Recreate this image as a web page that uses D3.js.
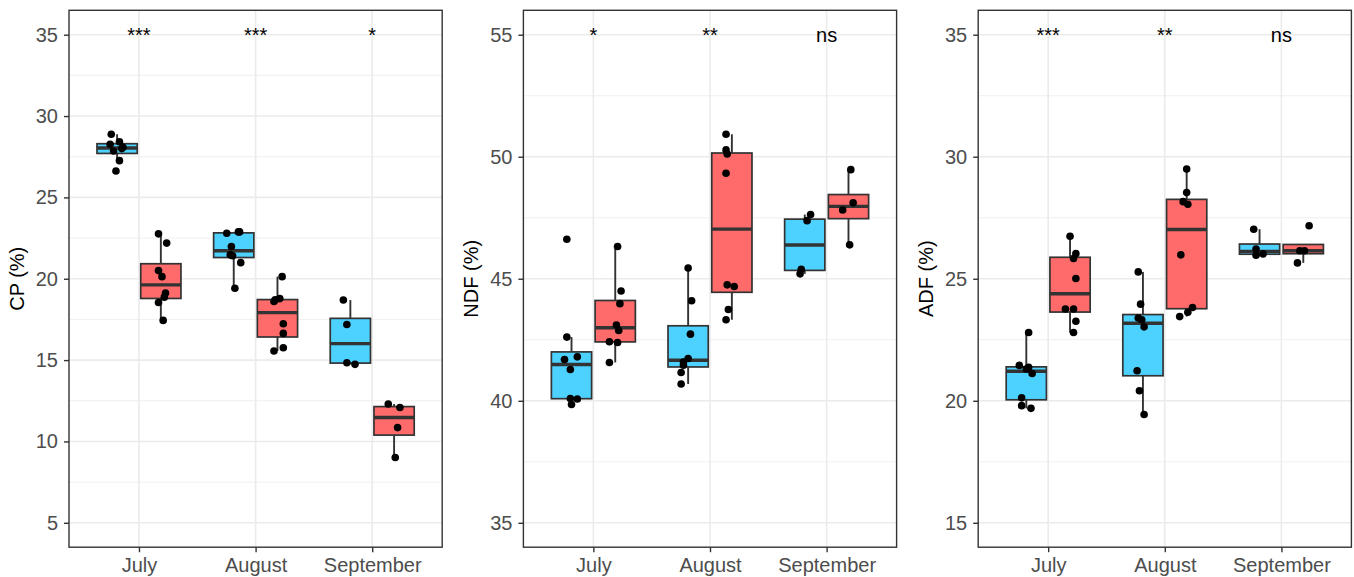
<!DOCTYPE html>
<html>
<head>
<meta charset="utf-8">
<script src="https://cdn.jsdelivr.net/npm/d3@7"></script>
<style>
body { margin: 0; background: #fff; }
svg { display: block; font-family: 'Liberation Sans', Arial, Helvetica, sans-serif; }
</style>
</head>
<body>
<svg id="chart" width="1354" height="577"></svg>
<script>
var months = ['July', 'August', 'September']
var groupColors = ['#4DD2FF', '#FF6B6B']

// [value, jitter] per point, one list per month
var cpBlue = [
    [[28.88, -0.05], [28.26, -0.06], [28.42, 0.02], [27.85, -0.03], [28.08, 0.05], [28.0, 0.04], [27.26, 0.02], [26.62, -0.01]],
    [[22.80, -0.06], [22.88, 0.04], [22.88, 0.05], [21.98, -0.02], [21.47, -0.03], [21.41, -0.01], [20.99, 0.06], [19.42, 0.01]],
    [[18.69, -0.06], [17.19, -0.03], [14.84, -0.03], [14.74, 0.04]]
]
var cpRed = [
    [[22.76, -0.02], [22.19, 0.05], [20.50, -0.02], [20.13, 0.01], [19.12, 0.04], [18.87, 0.03], [18.54, -0.02], [17.44, 0.02]],
    [[20.13, 0.04], [18.78, 0.02], [18.70, -0.02], [18.60, -0.03], [17.23, 0.05], [16.64, 0.05], [15.76, 0.05], [15.56, -0.03]],
    [[12.30, -0.05], [12.09, 0.05], [10.85, 0.03], [9.01, 0.01]]
]
var ndfBlue = [
    [[46.62, -0.04], [42.61, -0.04], [41.80, 0.05], [41.69, -0.06], [41.28, -0.01], [40.09, -0.01], [40.07, 0.05], [39.85, 0.0]],
    [[45.44, 0.0], [44.10, 0.03], [42.73, 0.02], [41.73, 0.0], [41.59, -0.04], [41.46, -0.04], [41.16, -0.06], [40.69, -0.06]],
    [[47.63, 0.05], [47.38, 0.02], [45.39, -0.03], [45.20, -0.04]]
]
var ndfRed = [
    [[46.32, 0.02], [44.50, 0.05], [43.98, 0.04], [43.10, 0.01], [42.88, 0.03], [42.42, -0.05], [42.39, 0.02], [41.57, -0.05]],
    [[50.92, -0.05], [50.28, -0.05], [50.11, -0.04], [49.32, -0.05], [44.75, -0.04], [44.68, 0.02], [43.74, -0.03], [43.32, -0.05]],
    [[49.47, 0.02], [48.11, 0.04], [47.82, -0.05], [46.39, 0.01]]
]
var adfBlue = [
    [[22.80, 0.02], [21.45, -0.06], [21.37, 0.02], [21.30, 0.0], [21.12, 0.05], [20.12, -0.04], [19.80, -0.04], [19.69, 0.04]],
    [[25.28, -0.04], [23.96, -0.02], [23.39, -0.04], [23.32, -0.01], [23.03, 0.01], [21.23, -0.05], [20.41, -0.03], [19.44, 0.01]],
    [[27.03, -0.05], [26.22, -0.03], [26.02, 0.03], [25.96, -0.03]]
]
var adfRed = [
    [[26.74, 0.0], [26.03, 0.05], [25.83, 0.03], [25.01, 0.05], [23.76, -0.04], [23.76, 0.03], [23.26, 0.05], [22.80, 0.03]],
    [[29.50, 0.0], [28.53, 0.0], [28.16, -0.03], [28.05, 0.01], [25.98, -0.05], [23.82, 0.05], [23.63, 0.01], [23.45, -0.06]],
    [[27.17, 0.05], [26.15, -0.03], [26.15, 0.01], [25.65, -0.05]]
]

// significance labels per month
var cpSig = ['***', '***', '*']
var ndfSig = ['*', '**', 'ns']
var adfSig = ['***', '**', 'ns']

// y ticks and limits
var cpTicks = [5, 10, 15, 20, 25, 30, 35]
var ndfTicks = [35, 40, 45, 50, 55]
var adfTicks = [15, 20, 25, 30, 35]
var cpDomain = [3.5, 36.5]
var ndfDomain = [34.0, 56.0]
var adfDomain = [14.0, 36.0]

var panels = [
    { title: 'CP (%)', series: [cpBlue, cpRed], sig: cpSig, ticks: cpTicks, domain: cpDomain, sigY: 35 },
    { title: 'NDF (%)', series: [ndfBlue, ndfRed], sig: ndfSig, ticks: ndfTicks, domain: ndfDomain, sigY: 55 },
    { title: 'ADF (%)', series: [adfBlue, adfRed], sig: adfSig, ticks: adfTicks, domain: adfDomain, sigY: 35 }
]

var svg = d3.select('#chart'),
    panelLeft = [69, 523.4, 978.2],
    panelWidth = 373.2,
    plotTop = 10.3,
    plotBottom = 547.2,
    gridColor = '#ebebeb',
    darkColor = '#333333',
    textGrey = '#4d4d4d'

// box stats like ggplot (type 7 quantiles, 1.5 IQR whiskers)
function boxStats(vals) {
    var s = vals.slice().sort(d3.ascending),
        q1 = d3.quantileSorted(s, 0.25),
        med = d3.quantileSorted(s, 0.5),
        q3 = d3.quantileSorted(s, 0.75),
        iqr = q3 - q1
    return {
        q1: q1, med: med, q3: q3,
        lo: d3.min(s.filter(v => v >= q1 - 1.5 * iqr)),
        hi: d3.max(s.filter(v => v <= q3 + 1.5 * iqr))
    }
}

panels.forEach(function (p, pi) {
    var left = panelLeft[pi],
        right = left + panelWidth

    var x = d3.scalePoint().domain(months).range([left, right]).padding(0.6)
    var y = d3.scaleLinear().domain(p.domain).range([plotBottom, plotTop])
    var step = x.step()

    var g = svg.append('g')

    // grid
    var minor = d3.pairs(p.ticks).map(d => (d[0] + d[1]) / 2)
    g.selectAll('.minor').data(minor).enter().append('line')
        .attr('x1', left).attr('x2', right)
        .attr('y1', d => y(d)).attr('y2', d => y(d))
        .style('stroke', gridColor).style('stroke-width', 0.8)
    g.selectAll('.major').data(p.ticks).enter().append('line')
        .attr('x1', left).attr('x2', right)
        .attr('y1', d => y(d)).attr('y2', d => y(d))
        .style('stroke', gridColor).style('stroke-width', 1.6)
    g.selectAll('.vmajor').data(months).enter().append('line')
        .attr('x1', d => x(d)).attr('x2', d => x(d))
        .attr('y1', plotTop).attr('y2', plotBottom)
        .style('stroke', gridColor).style('stroke-width', 1.6)

    // boxes
    p.series.forEach(function (series, gi) {
        series.forEach(function (pts, mi) {
            var cx = x(months[mi]) + (gi === 0 ? -1 : 1) * 0.1875 * step,
                bw = 0.345 * step,
                st = boxStats(pts.map(d => d[0]))

            g.append('line')
                .attr('x1', cx).attr('x2', cx)
                .attr('y1', y(st.q3)).attr('y2', y(st.hi))
                .style('stroke', darkColor).style('stroke-width', 1.9)
            g.append('line')
                .attr('x1', cx).attr('x2', cx)
                .attr('y1', y(st.q1)).attr('y2', y(st.lo))
                .style('stroke', darkColor).style('stroke-width', 1.9)
            g.append('rect')
                .attr('x', cx - bw / 2).attr('width', bw)
                .attr('y', y(st.q3)).attr('height', y(st.q1) - y(st.q3))
                .style('fill', groupColors[gi])
                .style('stroke', darkColor).style('stroke-width', 1.7)
            g.append('line')
                .attr('x1', cx - bw / 2).attr('x2', cx + bw / 2)
                .attr('y1', y(st.med)).attr('y2', y(st.med))
                .style('stroke', darkColor).style('stroke-width', 3.4)

            // jittered points
            g.selectAll(null).data(pts).enter().append('circle')
                .attr('cx', d => cx + d[1] * step)
                .attr('cy', d => y(d[0]))
                .attr('r', 3.8)
                .style('fill', '#000')
        })
    })

    // significance text
    g.selectAll('.sig').data(p.sig).enter().append('text')
        .attr('x', (d, i) => x(months[i]))
        .attr('y', y(p.sigY))
        .attr('dy', '0.38em')
        .attr('text-anchor', 'middle')
        .style('font-size', '20px')
        .style('fill', '#000')
        .text(d => d)

    // border
    g.append('rect')
        .attr('x', left).attr('y', plotTop)
        .attr('width', panelWidth).attr('height', plotBottom - plotTop)
        .style('fill', 'none')
        .style('stroke', darkColor).style('stroke-width', 1.4)

    // axes
    var yAxis = g.append('g')
        .attr('transform', 'translate(' + left + ',0)')
        .call(d3.axisLeft(y).tickValues(p.ticks).tickSize(5).tickPadding(6))
    var xAxis = g.append('g')
        .attr('transform', 'translate(0,' + plotBottom + ')')
        .call(d3.axisBottom(x).tickSize(5).tickPadding(6))

    ;[yAxis, xAxis].forEach(function (a) {
        a.select('.domain').remove()
        a.selectAll('.tick line').attr('stroke', darkColor).attr('stroke-width', 1.4)
        a.selectAll('.tick text')
            .attr('fill', textGrey)
            .style('font-size', '20px')
            .style('font-family', "'Liberation Sans', Arial, sans-serif")
    })

    // y title
    g.append('text')
        .attr('transform', 'translate(' + (left - 45) + ',' + (plotTop + plotBottom) / 2 + ') rotate(-90)')
        .attr('text-anchor', 'middle')
        .style('font-size', '20px')
        .style('fill', '#000')
        .text(p.title)
})
</script>
</body>
</html>
